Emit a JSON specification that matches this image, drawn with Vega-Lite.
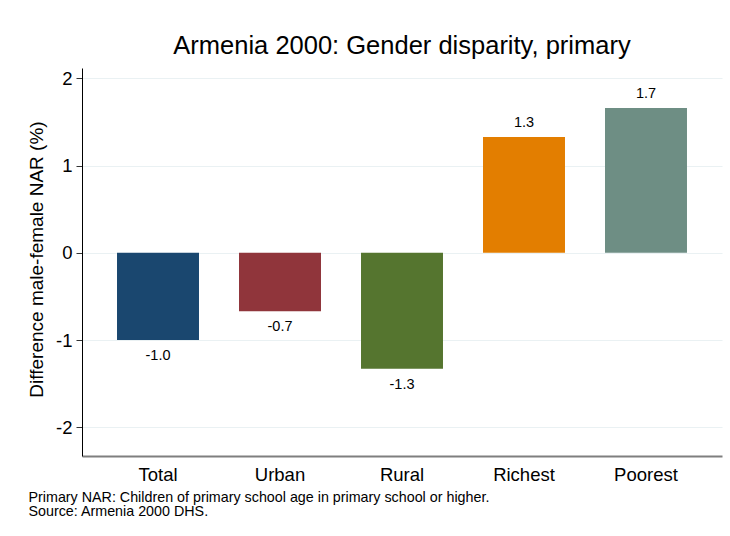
{
  "$schema": "https://vega.github.io/schema/vega-lite/v6.json",
  "autosize": {"type": "none"},
  "padding": {"left": 82, "top": 68, "right": 8, "bottom": 80},
  "width": 640,
  "height": 388,
  "background": "white",
  "config": {
    "font": "Liberation Sans",
    "view": {"stroke": null},
    "locale": {
      "number": {
        "decimal": ".",
        "thousands": ",",
        "grouping": [3],
        "currency": ["$", ""],
        "minus": "-"
      }
    },
    "axis": {"labelColor": "black", "titleColor": "black", "titleFontWeight": "normal"}
  },
  "title": {
    "text": "Armenia 2000: Gender disparity, primary",
    "fontSize": 25.5,
    "fontWeight": "normal",
    "color": "black",
    "anchor": "middle",
    "offset": 9
  },
  "data": {
    "values": [
      {"group": "Total", "value": -1.0},
      {"group": "Urban", "value": -0.67},
      {"group": "Rural", "value": -1.33},
      {"group": "Richest", "value": 1.33},
      {"group": "Poorest", "value": 1.66}
    ]
  },
  "encoding": {
    "x": {
      "field": "group",
      "type": "nominal",
      "sort": null,
      "scale": {"paddingInner": 0.328, "paddingOuter": 0.287},
      "axis": {
        "labelAngle": 0,
        "labelFontSize": 18.5,
        "labelPadding": 9,
        "ticks": false,
        "domainColor": "#7f7f7f",
        "domainWidth": 2,
        "title": ["Primary NAR: Children of primary school age in primary school or higher.", "Source: Armenia 2000 DHS."],
        "titleFontSize": 14.3,
        "titleLineHeight": 14,
        "titleAnchor": "start",
        "titleAlign": "left",
        "titleBaseline": "alphabetic",
        "titleX": -54,
        "titleY": 45
      }
    }
  },
  "layer": [
    {
      "mark": {"type": "bar"},
      "encoding": {
        "y": {
          "field": "value",
          "type": "quantitative",
          "scale": {"domain": [-2.33, 2.12], "nice": false, "zero": false},
          "axis": {
            "values": [-2, -1, 0, 1, 2],
            "format": "d",
            "title": "Difference male-female NAR (%)",
            "titleFontSize": 19,
            "titlePadding": 9,
            "titleY": 191,
            "labelFontSize": 18.5,
            "labelPadding": 4,
            "tickSize": 6,
            "tickColor": "#333333",
            "domainColor": "black",
            "gridColor": "#eaf1f3",
            "gridWidth": 1.2
          }
        },
        "color": {
          "field": "group",
          "type": "nominal",
          "sort": null,
          "scale": {
            "domain": ["Total", "Urban", "Rural", "Richest", "Poorest"],
            "range": ["#1a476f", "#90353b", "#55752f", "#e37e00", "#6e8e84"]
          },
          "legend": null
        }
      }
    },
    {
      "transform": [{"filter": "datum.value < 0"}],
      "mark": {"type": "text", "baseline": "top", "dy": 9, "fontSize": 14.5, "color": "black"},
      "encoding": {
        "y": {"field": "value", "type": "quantitative"},
        "text": {"field": "value", "type": "quantitative", "format": ".1f"}
      }
    },
    {
      "transform": [{"filter": "datum.value > 0"}],
      "mark": {"type": "text", "baseline": "bottom", "dy": -7, "fontSize": 14.5, "color": "black"},
      "encoding": {
        "y": {"field": "value", "type": "quantitative"},
        "text": {"field": "value", "type": "quantitative", "format": ".1f"}
      }
    }
  ]
}
